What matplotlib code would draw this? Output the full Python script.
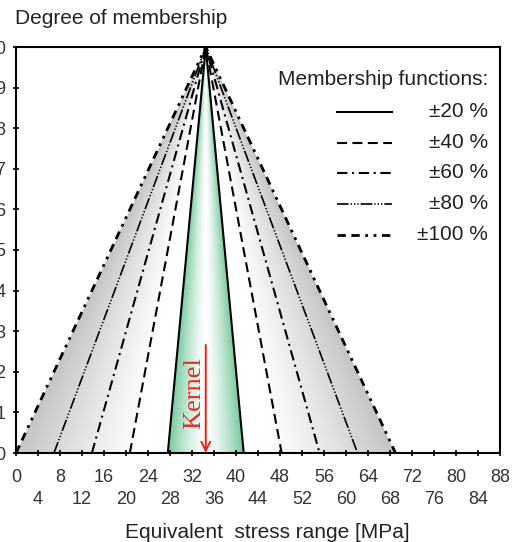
import numpy as np
import matplotlib
matplotlib.use("Agg")
import matplotlib.pyplot as plt
from matplotlib.ticker import FixedLocator, FixedFormatter

plt.rcParams['font.family'] = ['Liberation Sans', 'DejaVu Sans']

# Triangular membership functions around the kernel value
kernel = 34.5                      # MPa
spreads = [0.20, 0.40, 0.60, 0.80, 1.00]
labels = ['±20 %', '±40 %', '±60 %', '±80 %', '±100 %']
styles = ['-', (0, (4.8, 2.6)), (0, (5, 2.2, 1, 2.2)),
          (0, (7, 1.2, 0.8, 1.2, 0.8, 1.2, 0.8, 1.2)), (0, (3, 2, 3, 2, 1, 2, 1, 2))]
widths = [1.5, 1.5, 1.5, 1.2, 2.0]

x_major = np.arange(0, 89, 8)
x_minor = np.arange(4, 88, 8)
y_ticks = np.round(np.arange(0, 1.01, 0.1), 1)

fig = plt.figure(figsize=(5.13, 5.42), dpi=100)
ax = fig.add_axes([16/513, 89/542, 484/513, 406/542])
ax.set_xlim(0, 88)
ax.set_ylim(0, 1)

# shaded background: green kernel band, grey widening bands
nx, ny = 1100, 600
xs = np.linspace(0, 88, nx)
ys = np.linspace(0, 1, ny)
X, Y = np.meshgrid(xs, ys)
half = np.maximum(kernel * (1 - Y), 1e-6)
u = np.abs(X - kernel) / half
img = np.ones((ny, nx, 4))
green = np.array([0.47, 0.79, 0.62])
t = np.clip(u / spreads[0], 0, 1) ** 1.4
inner = u <= spreads[0]
for k in range(3):
    img[..., k] = np.where(inner, 1 - t * (1 - green[k]), img[..., k])
g = 1 - 0.23 * np.clip((u - 0.35) / (1 - 0.35), 0, 1) ** 1.1
outer = (u > spreads[0]) & (u <= 1)
img[..., 0] = np.where(outer, g, img[..., 0])
img[..., 1] = np.where(outer, g, img[..., 1])
img[..., 2] = np.where(outer, np.minimum(g + 0.01, 1), img[..., 2])
img[..., 3] = np.where(u <= 1, 1.0, 0.0)
ax.imshow(img, extent=[0, 88, 0, 1], origin='lower', aspect='auto',
          interpolation='bilinear', zorder=1)

for s, ls, lw in zip(spreads, styles, widths):
    xt = [kernel * (1 - s), kernel, kernel * (1 + s)]
    ax.plot(xt, [0, 1, 0], color='black', linestyle=ls, linewidth=lw, zorder=3)

# kernel marker
ax.annotate('', xy=(kernel, 0), xytext=(kernel, 0.266),
            arrowprops=dict(arrowstyle='->', color='#e0302a', lw=1.5,
                            mutation_scale=16, shrinkA=0, shrinkB=0), zorder=4)
ax.text(32.4, 0.148, 'Kernel', rotation=90, color='#e0302a', ha='center',
        va='center', fontsize=19, family=['Liberation Serif', 'DejaVu Serif'], zorder=4)

# legend drawn in axes coordinates
ax.text(0.975, 0.919, 'Membership functions:', transform=ax.transAxes,
        ha='right', va='center', fontsize=15, color='#222222')
rows = [0.840, 0.764, 0.690, 0.614, 0.537]
for yy, lab, ls, lw in zip(rows, labels, styles, widths):
    ax.plot([0.663, 0.777], [yy, yy], transform=ax.transAxes, color='black',
            linestyle=ls, linewidth=lw, zorder=5)
    ax.text(0.975, yy, lab, transform=ax.transAxes, ha='right', va='center',
            fontsize=15, color='#222222')

# axes styling
for sp in ax.spines.values():
    sp.set_linewidth(1.5)
    sp.set_zorder(6)
ax.xaxis.set_major_locator(FixedLocator(x_major))
ax.xaxis.set_major_formatter(FixedFormatter([str(v) for v in x_major]))
ax.xaxis.set_minor_locator(FixedLocator(x_minor))
ax.xaxis.set_minor_formatter(FixedFormatter([str(v) for v in x_minor]))
ax.tick_params(axis='x', which='major', direction='inout', length=5, width=1.2,
               pad=9, labelsize=13, labelcolor='#333333')
ax.tick_params(axis='x', which='minor', direction='inout', length=5, width=1.2,
               pad=25, labelsize=13, labelcolor='#333333')
ax.set_yticks(y_ticks)
ax.set_yticklabels([f'{v:.1f}' for v in y_ticks])
ax.tick_params(axis='y', direction='inout', length=5, width=1.2, pad=4.5,
               labelsize=13, labelcolor='#333333')

ax.set_xlabel('Equivalent  stress range [MPa]', fontsize=15, color='#222222')
ax.xaxis.set_label_coords(0.519, -0.197)
ax.xaxis.label.set_va('center')

fig.text(15/513, 1 - 19/542, 'Degree of membership', ha='left', va='center',
         fontsize=15, color='#222222')

fig.savefig('out.png', dpi=100)
